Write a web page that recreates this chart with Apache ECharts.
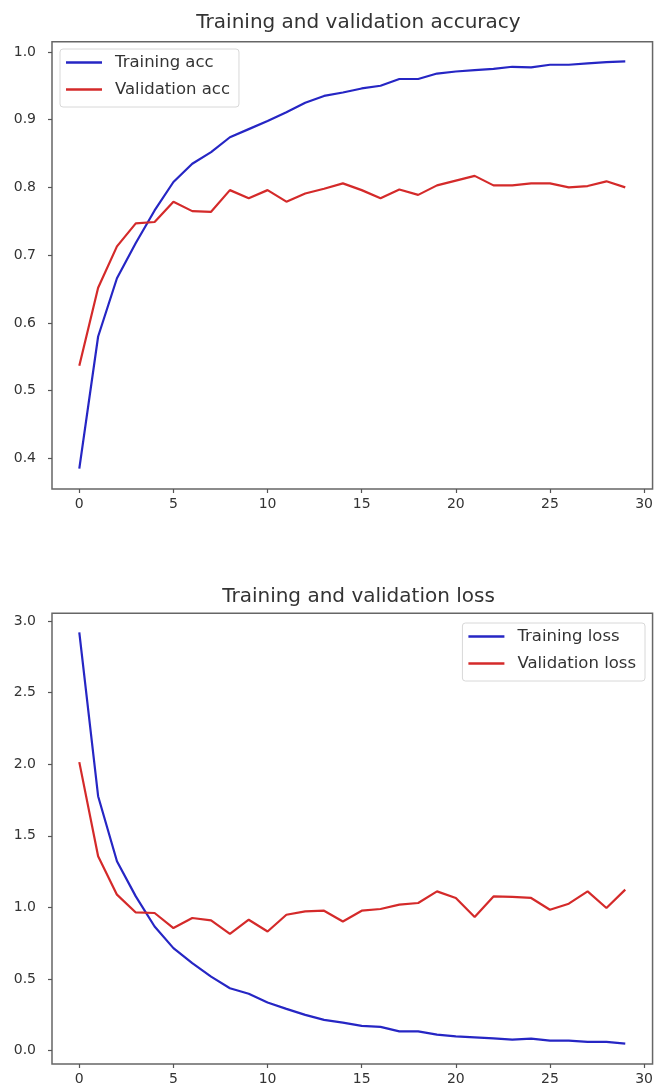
<!DOCTYPE html>
<html>
<head>
<meta charset="utf-8">
<script src="https://cdn.jsdelivr.net/npm/echarts@6/dist/echarts.min.js"></script>
<style>
html,body{margin:0;padding:0;background:#fff;}
#c{width:656px;height:1091px;}
</style>
</head>
<body>
<div id="c"></div>
<script>
var epochs = [0,1,2,3,4,5,6,7,8,9,10,11,12,13,14,15,16,17,18,19,20,21,22,23,24,25,26,27,28,29];
var trainAcc = [0.385,0.580,0.666,0.718,0.766,0.808,0.835,0.852,0.874,0.886,0.898,0.911,0.925,0.935,0.940,0.946,0.950,0.960,0.960,0.968,0.971,0.973,0.975,0.978,0.977,0.981,0.981,0.983,0.985,0.986];
var valAcc = [0.537,0.652,0.713,0.747,0.749,0.779,0.765,0.764,0.796,0.784,0.796,0.779,0.791,0.798,0.806,0.796,0.784,0.797,0.789,0.803,0.810,0.817,0.803,0.803,0.806,0.806,0.800,0.802,0.809,0.800];
var trainLoss = [2.919,1.776,1.322,1.077,0.867,0.716,0.611,0.517,0.436,0.397,0.336,0.292,0.250,0.215,0.196,0.173,0.166,0.135,0.135,0.112,0.100,0.093,0.086,0.077,0.084,0.070,0.070,0.061,0.061,0.049];
var valLoss = [2.014,1.357,1.089,0.965,0.961,0.856,0.926,0.909,0.816,0.914,0.832,0.949,0.972,0.977,0.902,0.977,0.989,1.019,1.031,1.112,1.066,0.933,1.077,1.073,1.066,0.984,1.026,1.112,0.996,1.124];
var xTicks = [0,5,10,15,20,25,30];
var accTicks = [0.4,0.5,0.6,0.7,0.8,0.9,1.0];
var lossTicks = [0.0,0.5,1.0,1.5,2.0,2.5,3.0];

function pairs(xs, ys){ return xs.map(function(x,i){ return [x, ys[i]]; }); }

var FONT = 'DejaVu Sans';
var BLUE = '#2626c4';
var RED = '#d42a2a';

function xAxisDef(gi){
  return {
    type:'value', gridIndex:gi, min:-1.45, max:30.45, position:'bottom',
    axisLine:{show:false, onZero:false},
    axisTick:{show:true, length:4, lineStyle:{color:'#555', width:1.2}, customValues:xTicks},
    axisLabel:{customValues:xTicks, color:'#333', fontFamily:FONT, fontSize:14, margin:8},
    splitLine:{show:false}
  };
}
function yAxisDef(gi, mn, mx, ticks){
  return {
    type:'value', gridIndex:gi, min:mn, max:mx, position:'left',
    axisLine:{show:false, onZero:false},
    axisTick:{show:true, length:4, lineStyle:{color:'#555', width:1.2}, customValues:ticks},
    axisLabel:{customValues:ticks, color:'#333', fontFamily:FONT, fontSize:14, margin:16,
      formatter:function(v){ return v.toFixed(1); }},
    splitLine:{show:false}
  };
}
function lineSeries(name, xi, data, color){
  return {
    name:name, type:'line', xAxisIndex:xi, yAxisIndex:xi,
    data:data, showSymbol:false, symbol:'none', animation:false,
    lineStyle:{color:color, width:2.2}, itemStyle:{color:color}
  };
}
var legendBase = {
  orient:'vertical', icon:'rect', itemWidth:36, itemHeight:2.5, itemGap:10,
  backgroundColor:'rgba(255,255,255,0.85)', borderColor:'#d8d8d8', borderWidth:1, borderRadius:3,
  padding:[5,9,9,6],
  textStyle:{fontFamily:FONT, fontSize:16.5, color:'#333', lineHeight:16, padding:[0,0,0,8]}
};

var chart = echarts.init(document.getElementById('c'), null, {renderer:'canvas'});
chart.setOption({
  backgroundColor:'#fff',
  animation:false,
  title:[
    {text:'Training and validation accuracy', left:353.5, textAlign:'center', top:8,
      textStyle:{fontFamily:FONT, fontSize:20, fontWeight:'normal', color:'#333'}},
    {text:'Training and validation loss', left:353.5, textAlign:'center', top:582,
      textStyle:{fontFamily:FONT, fontSize:20, fontWeight:'normal', color:'#333'}}
  ],
  legend:[
    Object.assign({}, legendBase, {left:60, top:49, data:['Training acc','Validation acc']}),
    Object.assign({}, legendBase, {right:11, top:623, data:['Training loss','Validation loss']})
  ],
  grid:[
    {left:52, right:1.5, top:41.7, height:447.3, show:true, borderColor:'#666', borderWidth:1.5, backgroundColor:'#fff'},
    {left:52, right:1.5, top:613.3, height:450.7, show:true, borderColor:'#666', borderWidth:1.5, backgroundColor:'#fff'}
  ],
  xAxis:[xAxisDef(0), xAxisDef(1)],
  yAxis:[yAxisDef(0, 0.355, 1.015, accTicks), yAxisDef(1, -0.093, 3.053, lossTicks)],
  series:[
    lineSeries('Training acc', 0, pairs(epochs, trainAcc), BLUE),
    lineSeries('Validation acc', 0, pairs(epochs, valAcc), RED),
    lineSeries('Training loss', 1, pairs(epochs, trainLoss), BLUE),
    lineSeries('Validation loss', 1, pairs(epochs, valLoss), RED)
  ]
});
</script>
</body>
</html>
